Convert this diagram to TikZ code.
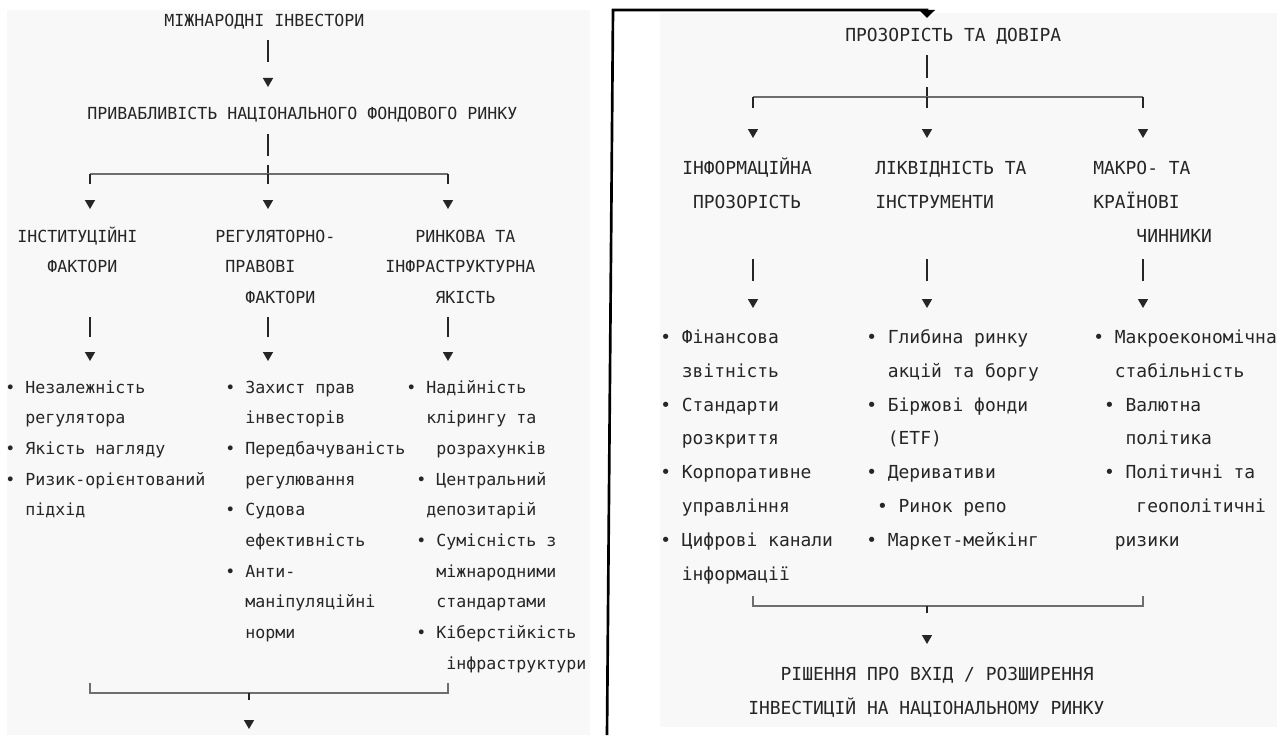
\documentclass[tikz,border=0pt]{standalone}
\usepackage{fontspec}
\setmonofont{DejaVu Sans Mono}
\usetikzlibrary{arrows.meta,calc}
\definecolor{ink}{HTML}{262626}
\definecolor{paper}{HTML}{F8F8F8}
\definecolor{railgray}{HTML}{6E6E6E}

\begin{document}
\begin{tikzpicture}[
  x=0.75pt,y=-0.75pt,
  lbl/.style={inner sep=0pt,anchor=north west,align=left,text=ink,
    execute at begin node=\strut,execute at end node=\strut},
  lcol/.style={lbl,font=\ttfamily\fontsize{12.46pt}{23pt}\selectfont},
  rcol/.style={lbl,font=\ttfamily\fontsize{13.45pt}{25.4pt}\selectfont},
  link/.style n args={3}{draw=ink,line width=1.1pt,
    shorten <=#1*0.75pt,shorten >=#3*0.75pt,
    dash pattern=on #2*0.75pt off 1500pt,
    -{Triangle[width=7.5pt,length=6.75pt]}},
  stem/.style 2 args={draw=ink,line width=1.1pt,shorten <=#1*0.75pt,
    dash pattern=#2},
  rail/.style={draw=railgray,line width=0.8pt},
  frame/.style={draw=black,line width=2pt,
    -{Triangle[width=12pt,length=6pt]}}
]
  \useasboundingbox (0,0) rectangle (1277,735);
  \fill[paper] (7,10) rectangle (590,735);
  \fill[paper] (660,13) rectangle (1277,727);

  % column axes and junctions
  \coordinate (colA) at (90,0);
  \coordinate (colB) at (268,0);
  \coordinate (colC) at (448,0);
  \coordinate (colD) at (753,0);
  \coordinate (colE) at (927,0);
  \coordinate (colF) at (1143,0);
  \coordinate (splitL) at (268,174);
  \coordinate (mergeL) at (249,693);
  \coordinate (outL) at (249,729);
  \coordinate (splitR) at (927,97);
  \coordinate (mergeR) at (927,606);
  \coordinate (frameFoot) at (607,735);
  \coordinate (frameTop) at (613,10);

  % left sheet
  \node[lcol] (investors) at (164,4.5) {МІЖНАРОДНІ ІНВЕСТОРИ};
  \node[lcol] (attract) at (87,97.5) {ПРИВАБЛИВІСТЬ НАЦІОНАЛЬНОГО ФОНДОВОГО РИНКУ};
  \node[lcol] (hdrInst) at (17,220.5) {\strut ІНСТИТУЦІЙНІ\\~~~ФАКТОРИ};
  \node[lcol] (hdrReg) at (215,220.5) {\strut РЕГУЛЯТОРНО-\\~ПРАВОВІ\\~~~ФАКТОРИ};
  \node[lcol] (hdrMkt) at (385,220.5) {\strut ~~~РИНКОВА ТА\\ІНФРАСТРУКТУРНА\\~~~~~ЯКІСТЬ};
  \node[lcol] (listInst) at (5,371.5) {\strut • Незалежність\\~~регулятора\\• Якість нагляду\\• Ризик-орієнтований\\~~підхід};
  \node[lcol] (listReg) at (225,371.5) {\strut • Захист прав\\~~інвесторів\\• Передбачуваність\\~~регулювання\\• Судова\\~~ефективність\\• Анти-\\~~маніпуляційні\\~~норми};
  \node[lcol] (listMkt) at (406,371.5) {\strut • Надійність\\~~клірингу та\\~~~розрахунків\\~• Центральний\\~~депозитарій\\~• Сумісність з\\~~~міжнародними\\~~~стандартами\\~• Кіберстійкість\\~~~~інфраструктури};

  \draw[link={4.8}{22}{10.5}] (investors.south -| colB) -- (attract.north -| colB);
  \draw[stem={4.8}{on 16.5pt off 6.75pt on 7.5pt off 1500pt}] (attract.south -| colB) -- (splitL);
  \draw[rail] (splitL -| colA) -- (splitL -| colC);
  \foreach \c/\h/\l/\s in {colA/hdrInst/listInst/35.1,colB/hdrReg/listReg/4.4,colC/hdrMkt/listMkt/4.4}{
    \draw[link={0}{10}{11.5}] (splitL -| \c) -- (\h.north -| \c);
    \draw[link={\s}{20}{10.5}] (\h.south -| \c) -- (\l.north -| \c);
  }
  \draw[rail] ($(mergeL -| colA)+(0,-10)$) |- (mergeL -| colC) -- ++(0,-10);
  \draw[link={0}{7}{0}] (mergeL) -- (outL);

  % right sheet
  \node[rcol] (trust) at (845,17.8) {ПРОЗОРІСТЬ ТА ДОВІРА};
  \node[rcol] (hdrInfo) at (682,150.8) {\strut ІНФОРМАЦІЙНА\\~ПРОЗОРІСТЬ};
  \node[rcol] (hdrLiq) at (875,150.8) {\strut ЛІКВІДНІСТЬ ТА\\ІНСТРУМЕНТИ};
  \node[rcol] (hdrMacro) at (1093,150.8) {\strut МАКРО- ТА\\КРАЇНОВІ\\~~~~ЧИННИКИ};
  \node[rcol] (listInfo) at (660,319.3) {\strut • Фінансова\\~~звітність\\• Стандарти\\~~розкриття\\• Корпоративне\\~~управління\\• Цифрові канали\\~~інформації};
  \node[rcol] (listLiq) at (866,319.3) {\strut • Глибина ринку\\~~акцій та боргу\\• Біржові фонди\\~~(ETF)\\• Деривативи\\~• Ринок репо\\• Маркет-мейкінг};
  \node[rcol] (listMacro) at (1093,319.3) {\strut • Макроекономічна\\~~стабільність\\~• Валютна\\~~~політика\\~• Політичні та\\~~~~геополітичні\\~~ризики};
  \node[rcol] (decision) at (748,656.8) {\strut ~~~РІШЕННЯ ПРО ВХІД / РОЗШИРЕННЯ\\ІНВЕСТИЦІЙ НА НАЦІОНАЛЬНОМУ РИНКУ};

  \draw[stem={3.3}{on 17.25pt off 6.75pt on 7.5pt off 1500pt}] (trust.south -| colE) -- (splitR);
  \draw[rail] (splitR -| colD) -- (splitR -| colF);
  \foreach \c/\h/\l/\s in {colD/hdrInfo/listInfo/40.4,colE/hdrLiq/listLiq/40.4,colF/hdrMacro/listMacro/6.5}{
    \draw[link={0}{11}{12.8}] (splitR -| \c) -- (\h.north -| \c);
    \draw[link={\s}{22}{11.3}] (\h.south -| \c) -- (\l.north -| \c);
  }
  \draw[rail] ($(mergeR -| colD)+(0,-10)$) |- (mergeR -| colF) -- ++(0,-10);
  \draw[link={0}{7}{12.8}] (mergeR) -- (decision.north -| colE);

  % hand-drawn link between the sheets
  \draw[frame] (frameFoot) -- (frameTop) -| (trust.north -| colE);
\end{tikzpicture}
\end{document}
